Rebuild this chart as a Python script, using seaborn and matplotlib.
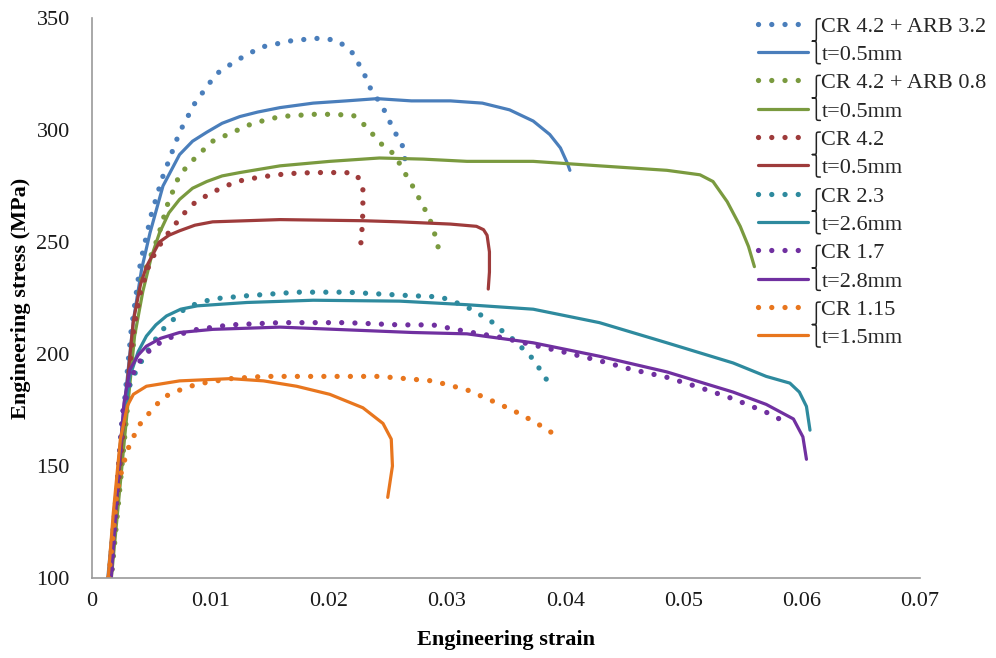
import numpy as np
import pandas as pd
import matplotlib
matplotlib.use("Agg")
import matplotlib.pyplot as plt
from matplotlib.lines import Line2D
from matplotlib.path import Path
from matplotlib.patches import PathPatch
from matplotlib.transforms import Affine2D
import seaborn as sns

# ---------------- data ----------------
arb32_dot_x = [0.0014, 0.0025, 0.0033, 0.0041, 0.0050, 0.0059, 0.0074, 0.0087, 0.0105, 0.0122, 0.0143,
               0.0170, 0.0193, 0.0207, 0.0215, 0.0221, 0.0226, 0.0231, 0.0235, 0.0246, 0.0256, 0.0262, 0.0266]
arb32_dot_y = [98, 165, 210, 241, 262, 278, 299, 312, 325, 331, 337,
               340, 341, 340, 337, 334, 329, 324, 319, 310, 299, 294, 283]
arb32_sol_x = [0.0013, 0.0025, 0.0035, 0.0042, 0.0049, 0.0060, 0.0074, 0.0085, 0.0097, 0.0110, 0.0125,
               0.0140, 0.0159, 0.0187, 0.0215, 0.0241, 0.0270, 0.0303, 0.0330, 0.0353, 0.0373, 0.0387,
               0.0396, 0.0402, 0.0404]
arb32_sol_y = [98, 165, 215, 238, 254, 275, 289, 295, 299, 303, 306,
               308, 310, 312, 313, 314, 313, 313, 312, 309, 304, 298,
               292, 285, 282]

arb08_dot_x = [0.0016, 0.0028, 0.0036, 0.0041, 0.0055, 0.0064, 0.0074, 0.0088, 0.0102, 0.0119, 0.0136,
               0.0159, 0.0187, 0.0204, 0.0221, 0.0233, 0.0239, 0.0246, 0.0256, 0.0263, 0.0269, 0.0274,
               0.0279, 0.0284, 0.0288, 0.0291, 0.0294]
arb08_dot_y = [98, 165, 210, 232, 251, 267, 280, 288, 295, 299, 303,
               306, 307, 307, 306.5, 301, 297, 293, 289, 282, 277, 272,
               267, 262, 257, 251, 245]
arb08_sol_x = [0.0016, 0.0028, 0.0036, 0.0043, 0.0050, 0.0057, 0.0065, 0.0074, 0.0085, 0.0097, 0.0110,
               0.0125, 0.0159, 0.0201, 0.0243, 0.0280, 0.0317, 0.0373, 0.0429, 0.0486, 0.0514, 0.0525,
               0.0537, 0.0548, 0.0555, 0.0560]
arb08_sol_y = [98, 165, 208, 228, 243, 254, 263, 269, 274, 277, 279.5,
               281, 284, 286, 287.5, 287, 286, 286, 284, 282, 280, 277,
               268, 257, 248, 239]

cr42_dot_x = [0.0015, 0.0027, 0.0035, 0.0041, 0.0049, 0.0060, 0.0072, 0.0083, 0.0091, 0.0105, 0.0122,
              0.0142, 0.0165, 0.0187, 0.0215, 0.0224, 0.0229, 0.0229, 0.0229, 0.0228, 0.0227]
cr42_dot_y = [98, 170, 210, 227.6, 241, 251, 259, 266, 269, 273, 277,
              279, 280.5, 281, 281, 280, 274, 268.5, 263.5, 253, 248]
cr42_sol_x = [0.0015, 0.0027, 0.0035, 0.0041, 0.0046, 0.0057, 0.0065, 0.0074, 0.0087, 0.0102, 0.0159,
              0.0229, 0.0260, 0.0303, 0.0325, 0.0331, 0.0334, 0.0336, 0.0336, 0.0335]
cr42_sol_y = [98, 172, 215, 231, 239, 250, 253, 255, 257.5, 259, 260,
              259.5, 259, 258, 257, 255.5, 253, 245.6, 236.6, 229]

cr23_dot_x = [0.0015, 0.0021, 0.0026, 0.0033, 0.0041, 0.0050, 0.0060, 0.0080, 0.0102, 0.0131, 0.0173,
              0.0215, 0.0271, 0.0294, 0.0303, 0.0317, 0.0330, 0.0339, 0.0345, 0.0353, 0.0362, 0.0369,
              0.0374, 0.0380, 0.0385]
cr23_dot_y = [98, 140, 174, 188, 196, 204, 211, 221, 224.6, 226, 227.6,
              227.6, 226, 225.5, 224, 221, 217, 214, 211, 208, 203.5, 200,
              197, 192, 188]
cr23_sol_x = [0.0015, 0.0024, 0.0032, 0.0039, 0.0046, 0.0054, 0.0063, 0.0075, 0.0089, 0.0131, 0.0187,
              0.0260, 0.0317, 0.0373, 0.0429, 0.0486, 0.0542, 0.0570, 0.0590, 0.0598, 0.0604, 0.0607]
cr23_sol_y = [98, 160, 190, 201, 208, 213, 217, 220, 221.5, 223, 224,
              223.6, 222, 220, 214, 205, 196, 190, 187, 183, 176.6, 166]

cr17_dot_x = [0.0016, 0.0021, 0.0026, 0.0032, 0.0039, 0.0052, 0.0069, 0.0089, 0.0117, 0.0159, 0.0215,
              0.0260, 0.0288, 0.0317, 0.0345, 0.0373, 0.0401, 0.0429, 0.0457, 0.0486, 0.0514, 0.0542,
              0.0570, 0.0590]
cr17_dot_y = [98, 140, 174, 188, 196, 203.5, 208, 211, 213, 214, 214,
              213, 213, 210, 207.5, 204, 200.6, 197, 193, 189.6, 185, 180,
              174, 168.6]
cr17_sol_x = [0.0016, 0.0022, 0.0027, 0.0032, 0.0039, 0.0046, 0.0058, 0.0074, 0.0102, 0.0159, 0.0271,
              0.0317, 0.0373, 0.0429, 0.0486, 0.0542, 0.0570, 0.0593, 0.0601, 0.0604]
cr17_sol_y = [98, 145, 178, 193, 199.5, 203.5, 207, 209.6, 211, 212, 209.6,
              209, 205, 199, 192, 183, 177.5, 171, 163, 153]

cr115_dot_x = [0.0014, 0.0018, 0.0021, 0.0026, 0.0032, 0.0041, 0.0049, 0.0060, 0.0072, 0.0089, 0.0117,
               0.0145, 0.0187, 0.0243, 0.0274, 0.0288, 0.0317, 0.0330, 0.0345, 0.0359, 0.0373, 0.0387, 0.0394]
cr115_dot_y = [100, 120, 138, 150, 160, 169, 174, 180.6, 183.5, 186.6, 189,
               190, 190, 190, 188.6, 188, 184, 181, 177.5, 174, 170, 165.6, 162]
cr115_sol_x = [0.0012, 0.0014, 0.0018, 0.0024, 0.0030, 0.0035, 0.0046, 0.0074, 0.0117, 0.0145, 0.0173,
               0.0201, 0.0229, 0.0246, 0.0253, 0.0254, 0.0250]
cr115_sol_y = [95, 102, 129, 162, 177, 182, 185.6, 188, 189, 188, 185.6,
               182, 176, 169, 162, 150, 136]

series_names = ["CR 4.2 + ARB 3.2", "CR 4.2 + ARB 0.8", "CR 4.2", "CR 2.3", "CR 1.7", "CR 1.15"]
thickness_labels = ["t=0.5mm", "t=0.5mm", "t=0.5mm", "t=2.6mm", "t=2.8mm", "t=1.5mm"]
colors = ["#4A7EBB", "#7A9A3F", "#9E3B3B", "#2E8A9E", "#7030A0", "#E8761E"]

x_ticks = [0, 0.01, 0.02, 0.03, 0.04, 0.05, 0.06, 0.07]
x_tick_labels = ["0", "0.01", "0.02", "0.03", "0.04", "0.05", "0.06", "0.07"]
y_ticks = [100, 150, 200, 250, 300, 350]
y_tick_labels = ["100", "150", "200", "250", "300", "350"]

dotted_data = [(arb32_dot_x, arb32_dot_y), (arb08_dot_x, arb08_dot_y), (cr42_dot_x, cr42_dot_y),
               (cr23_dot_x, cr23_dot_y), (cr17_dot_x, cr17_dot_y), (cr115_dot_x, cr115_dot_y)]
solid_data = [(arb32_sol_x, arb32_sol_y), (arb08_sol_x, arb08_sol_y), (cr42_sol_x, cr42_sol_y),
              (cr23_sol_x, cr23_sol_y), (cr17_sol_x, cr17_sol_y), (cr115_sol_x, cr115_sol_y)]

# ---------------- style ----------------
sns.set_theme(style="white")
plt.rcParams["font.family"] = ["Liberation Serif", "DejaVu Serif"]

W, H = 996, 658
fig = plt.figure(figsize=(W / 100, H / 100), dpi=100)
ax = fig.add_axes([92 / W, 1 - 578 / H, (920 - 92) / W, (578 - 18) / H])

DOT_LW = 3.8          # ~5 px dots
DOT_STYLE = (0, (0.01, 2.5))
SOL_LW = 2.3

for i in range(6):
    dx, dy = dotted_data[i]
    sx, sy = solid_data[i]
    df_d = pd.DataFrame({"strain": dx, "stress": dy})
    df_s = pd.DataFrame({"strain": sx, "stress": sy})
    sns.lineplot(data=df_d, x="strain", y="stress", ax=ax, sort=False, estimator=None,
                 color=colors[i], linewidth=DOT_LW, linestyle=DOT_STYLE,
                 dash_capstyle="round", solid_capstyle="round")
    sns.lineplot(data=df_s, x="strain", y="stress", ax=ax, sort=False, estimator=None,
                 color=colors[i], linewidth=SOL_LW, solid_capstyle="round", solid_joinstyle="round")

ax.set_xlim(0, 0.07)
ax.set_ylim(100, 350)
ax.set_xticks(x_ticks)
ax.set_xticklabels(x_tick_labels)
ax.set_yticks(y_ticks)
ax.set_yticklabels(y_tick_labels)
ax.tick_params(axis="both", length=0, labelsize=16, colors="#1a1a1a")
ax.tick_params(axis="y", pad=16)
ax.tick_params(axis="x", pad=10)
for s in ["top", "right"]:
    ax.spines[s].set_visible(False)
for s in ["left", "bottom"]:
    ax.spines[s].set_color("#9a9a9a")
    ax.spines[s].set_linewidth(1.2)
ax.set_xlabel("Engineering strain", fontsize=16, fontweight="bold", labelpad=14, color="black")
ax.set_ylabel("Engineering stress (MPa)", fontsize=16, fontweight="bold", labelpad=4, color="black")
ax.grid(False)

# ---------------- legend ----------------
handles, labels = [], []
for i in range(6):
    handles.append(Line2D([], [], color=colors[i], linewidth=DOT_LW, linestyle=DOT_STYLE,
                          dash_capstyle="round"))
    labels.append(series_names[i])
    handles.append(Line2D([], [], color=colors[i], linewidth=SOL_LW, solid_capstyle="round"))
    labels.append(thickness_labels[i])

leg = fig.legend(handles, labels, loc="upper left", bbox_to_anchor=(758 / W, 1 - 16 / H),
                 frameon=False, fontsize=16, handlelength=2.25, handletextpad=0.6,
                 labelspacing=0.35, borderpad=0, borderaxespad=0)

# braces between paired legend rows (figure pixel coordinates)
pix = Affine2D().scale(1 / W, 1 / H) + fig.transFigure


def brace(x_right, y_mid, h, w):
    xm = x_right - w / 2
    xt = x_right - w
    top = y_mid + h / 2
    bot = y_mid - h / 2
    verts = [(x_right, top), (xm, top), (xm, top), (xm, top - w / 2),
             (xm, y_mid + w / 2),
             (xm, y_mid), (xm, y_mid), (xt, y_mid),
             (xm, y_mid), (xm, y_mid), (xm, y_mid - w / 2),
             (xm, bot + w / 2),
             (xm, bot), (xm, bot), (x_right, bot)]
    codes = [Path.MOVETO, Path.CURVE4, Path.CURVE4, Path.CURVE4,
             Path.LINETO,
             Path.CURVE4, Path.CURVE4, Path.CURVE4,
             Path.CURVE4, Path.CURVE4, Path.CURVE4,
             Path.LINETO,
             Path.CURVE4, Path.CURVE4, Path.CURVE4]
    return PathPatch(Path(verts, codes), transform=pix, fill=False, lw=1.1,
                     edgecolor="#222222", capstyle="round", joinstyle="round")


fig.canvas.draw()
texts = leg.get_texts()
renderer = fig.canvas.get_renderer()
for i in range(6):
    b1 = texts[2 * i].get_window_extent(renderer)
    b2 = texts[2 * i + 1].get_window_extent(renderer)
    ymid = (b1.y0 + b1.y1 + b2.y0 + b2.y1) / 4
    fig.add_artist(brace(b1.x0 - 1, ymid, (b1.y1 - b2.y0) * 0.95, 8))

fig.savefig("out.png", dpi=100)
